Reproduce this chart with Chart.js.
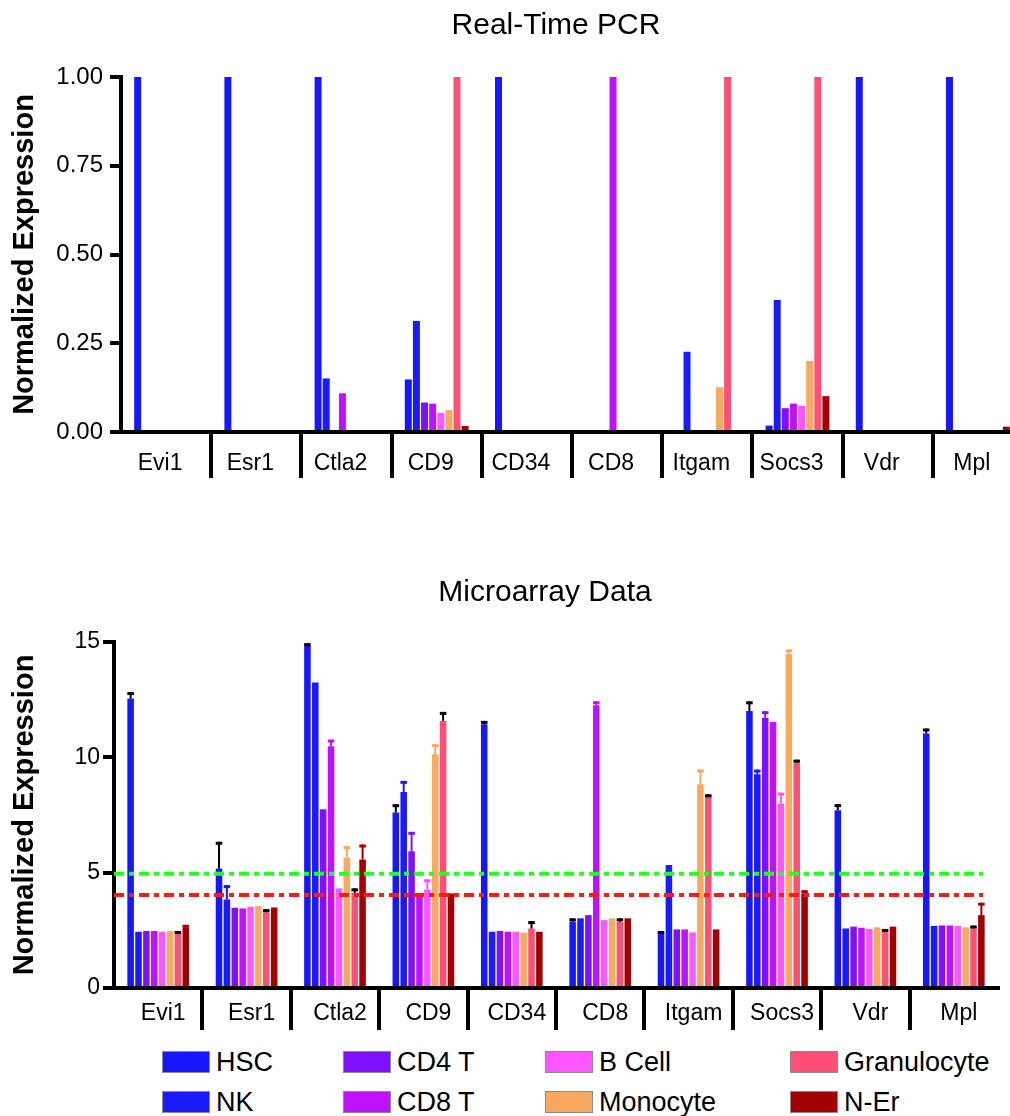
<!DOCTYPE html>
<html>
<head>
<meta charset="utf-8">
<script src="https://cdn.jsdelivr.net/npm/chart.js@4.4.1/dist/chart.umd.min.js"></script>
<style>
  html, body { margin: 0; padding: 0; background: #fff; overflow: hidden; }
  body { width: 1010px; height: 1116px; position: relative; font-family: 'Liberation Sans', Arial, sans-serif; }
  .title { position: absolute; width: 600px; text-align: center; font-size: 30px; line-height: 30px; color: #000; z-index: 2; }
  #topWrap { position: absolute; left: 0; top: 0; width: 1010px; height: 500px; overflow: hidden; }
  #pcrChart { position: absolute; left: 0; top: 0; }
  #arrayChart { position: absolute; left: 0; top: 600px; }
  #legend { position: absolute; left: 0; top: 1040px; width: 1010px; height: 76px; }
  .item { position: absolute; display: flex; align-items: center; height: 22px; font-size: 27px; color: #000; white-space: nowrap; }
  .swatch { width: 46px; height: 20px; border: 1px solid #8c8c8c; margin-right: 6px; }
</style>
</head>
<body>
<div class="title" style="left:256px; top:9px;">Real-Time PCR</div>
<div class="title" style="left:245px; top:576px;">Microarray Data</div>
<div id="topWrap"><canvas id="pcrChart" width="1023" height="500"></canvas></div>
<canvas id="arrayChart" width="1010" height="440"></canvas>
<div id="legend"></div>

<script>
const genes = ['Evi1', 'Esr1', 'Ctla2', 'CD9', 'CD34', 'CD8', 'Itgam', 'Socs3', 'Vdr', 'Mpl'];
const cellTypes = ['HSC', 'NK', 'CD4 T', 'CD8 T', 'B Cell', 'Monocyte', 'Granulocyte', 'N-Er'];
const cellColors = ['#1616ff', '#1a1aff', '#800fff', '#bf10ff', '#ff55ff', '#f9a95e', '#ff4f74', '#a30000'];
// error bars of these cell types are drawn in black, the rest in the bar colour
const blackErrors = ['HSC', 'Granulocyte'];

// Real-Time PCR, one value per gene
const pcrHSC  = [1, 1, 1, 0.148, 1, 0, 0, 0.018, 1, 1];
const pcrNK   = [0, 0, 0.151, 0.313, 0, 0, 0.226, 0.372, 0, 0];
const pcrCD4  = [0, 0, 0, 0.083, 0, 0, 0, 0.067, 0, 0];
const pcrCD8  = [0, 0, 0.109, 0.080, 0, 1, 0, 0.080, 0, 0];
const pcrB    = [0, 0, 0, 0.054, 0, 0, 0, 0.074, 0, 0];
const pcrMono = [0, 0, 0, 0.062, 0, 0, 0.126, 0.200, 0, 0];
const pcrGran = [0, 0, 0, 1, 0, 0, 1, 1, 0, 0];
const pcrNEr  = [0, 0, 0, 0.017, 0, 0, 0, 0.101, 0, 0.015];

// Microarray means
const arrHSC  = [12.55, 5.18, 14.86, 7.61, 11.43, 2.87, 2.37, 12.01, 7.71, 11.03];
const arrNK   = [2.44, 3.84, 13.24, 8.50, 2.44, 3.02, 5.33, 9.27, 2.58, 2.69];
const arrCD4  = [2.47, 3.48, 7.75, 5.93, 2.47, 3.16, 2.54, 11.72, 2.66, 2.71];
const arrCD8  = [2.47, 3.45, 10.48, 4.10, 2.44, 12.26, 2.54, 11.53, 2.61, 2.71];
const arrB    = [2.44, 3.52, 4.32, 4.27, 2.44, 2.94, 2.41, 8.00, 2.56, 2.69];
const arrMono = [2.47, 3.55, 5.66, 10.13, 2.40, 3.02, 8.83, 14.49, 2.63, 2.63];
const arrGran = [2.37, 3.28, 4.12, 11.58, 2.58, 2.87, 8.29, 9.77, 2.44, 2.58];
const arrNEr  = [2.62, 3.49, 5.57, 4.10, 2.44, 3.02, 2.54, 4.10, 2.66, 3.16];

// Microarray error (upper half only)
const errHSC  = [0.28, 1.16, 0.09, 0.36, 0.15, 0.15, 0.10, 0.42, 0.26, 0.22];
const errNK   = [0, 0.62, 0, 0.48, 0, 0, 0, 0.20, 0, 0];
const errCD4  = [0, 0, 0, 0.84, 0, 0, 0, 0.28, 0, 0];
const errCD8  = [0, 0, 0.29, 0, 0, 0.17, 0, 0, 0, 0];
const errB    = [0, 0, 0, 0.44, 0, 0, 0, 0.47, 0, 0];
const errMono = [0, 0, 0.49, 0.44, 0, 0, 0.64, 0.19, 0, 0];
const errGran = [0.10, 0.14, 0.20, 0.39, 0.32, 0.15, 0.11, 0.13, 0.12, 0.13];
const errNEr  = [0.12, 0, 0.65, 0, 0, 0, 0, 0.14, 0, 0.54];

// dashed reference lines on the microarray plot
const thresholdValues = [4.95, 4.03];
const thresholdColors = ['#22ff22', '#ff1a1a'];

const pcrSeries = [pcrHSC, pcrNK, pcrCD4, pcrCD8, pcrB, pcrMono, pcrGran, pcrNEr];
const arrSeries = [arrHSC, arrNK, arrCD4, arrCD8, arrB, arrMono, arrGran, arrNEr];
const errSeries = [errHSC, errNK, errCD4, errCD8, errB, errMono, errGran, errNEr];

Chart.defaults.font.family = "'Liberation Sans', Arial, sans-serif";
Chart.defaults.color = '#000';

const errorBars = {
  id: 'errorBars',
  afterDatasetsDraw(chart) {
    const ctx = chart.ctx;
    const y = chart.scales.y;
    chart.data.datasets.forEach((ds, d) => {
      if (!ds.errors) return;
      const meta = chart.getDatasetMeta(d);
      meta.data.forEach((bar, i) => {
        const e = ds.errors[i];
        if (!e) return;
        const base = y.getPixelForValue(ds.data[i]);
        const top = y.getPixelForValue(ds.data[i] + e);
        const half = bar.width / 2;
        ctx.save();
        ctx.strokeStyle = ds.errorColor;
        ctx.lineWidth = 2;
        ctx.beginPath();
        ctx.moveTo(bar.x, base);
        ctx.lineTo(bar.x, top);
        ctx.stroke();
        ctx.lineWidth = 3;
        ctx.beginPath();
        ctx.moveTo(bar.x - half, top + 1.5);
        ctx.lineTo(bar.x + half, top + 1.5);
        ctx.stroke();
        ctx.restore();
      });
    });
  }
};

const thresholds = {
  id: 'thresholds',
  afterDatasetsDraw(chart, args, opts) {
    if (!opts.values) return;
    const ctx = chart.ctx;
    const area = chart.chartArea;
    opts.values.forEach((v, i) => {
      const py = chart.scales.y.getPixelForValue(v);
      ctx.save();
      ctx.strokeStyle = opts.colors[i];
      ctx.lineWidth = 4;
      ctx.setLineDash([10, 5, 5, 5]);
      ctx.beginPath();
      ctx.moveTo(area.left, py);
      ctx.lineTo(area.right - 15, py);
      ctx.stroke();
      ctx.restore();
    });
  }
};

function makeDatasets(series, errors, catPct, barPct) {
  return cellTypes.map((name, i) => ({
    label: name,
    data: series[i],
    backgroundColor: cellColors[i],
    borderWidth: 0,
    categoryPercentage: catPct,
    barPercentage: barPct,
    errors: errors ? errors[i] : null,
    errorColor: blackErrors.includes(name) ? '#000' : cellColors[i]
  }));
}

function sepColor(c) {
  return c.index > 0 ? '#000' : 'rgba(0,0,0,0)';
}

function makeOptions(cfg) {
  return {
    responsive: false,
    animation: false,
    devicePixelRatio: 1,
    layout: { padding: { top: cfg.padTop, right: cfg.padRight, bottom: 0, left: 0 } },
    plugins: {
      legend: { display: false },
      tooltip: { enabled: false },
      thresholds: cfg.thresholds || {}
    },
    scales: {
      x: {
        grid: { offset: true, drawOnChartArea: false, tickLength: cfg.sepLength, lineWidth: 4, color: sepColor },
        border: { display: true, width: 4, color: '#000' },
        ticks: { font: { size: 23 }, padding: cfg.labelPad, labelOffset: cfg.labelOffset, maxRotation: 0, autoSkip: false },
        afterFit(scale) { scale.height = cfg.xHeight; }
      },
      y: {
        min: 0,
        max: cfg.max,
        grid: { drawOnChartArea: false, tickLength: 11, lineWidth: 4, color: '#000' },
        border: { display: true, width: 4, color: '#000' },
        ticks: { stepSize: cfg.step, font: { size: cfg.tickSize }, padding: cfg.tickPad, callback: cfg.fmt },
        title: { display: true, text: 'Normalized Expression', font: { size: 29, weight: 'bold' }, padding: { top: 8, bottom: 0 } },
        afterFit(scale) { scale.width = cfg.yWidth; }
      }
    }
  };
}

new Chart(document.getElementById('pcrChart'), {
  type: 'bar',
  data: { labels: genes, datasets: makeDatasets(pcrSeries, null, 0.72, 0.86) },
  options: makeOptions({
    padTop: 77, padRight: 0, xHeight: 68, yWidth: 121, max: 1, step: 0.25,
    tickSize: 24, tickPad: 7, sepLength: 46, labelPad: -28, labelOffset: -6,
    fmt: v => v.toFixed(2)
  })
});

new Chart(document.getElementById('arrayChart'), {
  type: 'bar',
  data: { labels: genes, datasets: makeDatasets(arrSeries, errSeries, 0.713, 0.83) },
  options: makeOptions({
    padTop: 42, padRight: 12, xHeight: 52, yWidth: 114, max: 15, step: 5,
    tickSize: 23, tickPad: 3, sepLength: 42, labelPad: -30, labelOffset: 5,
    fmt: v => String(v),
    thresholds: { values: thresholdValues, colors: thresholdColors }
  }),
  plugins: [errorBars, thresholds]
});

// legend laid out in columns of two, like the original figure
const legendCols = [162, 343, 545, 790];
const legend = document.getElementById('legend');
cellTypes.forEach((name, i) => {
  const item = document.createElement('div');
  item.className = 'item';
  item.style.left = legendCols[Math.floor(i / 2)] + 'px';
  item.style.top = (11 + (i % 2) * 40) + 'px';
  const sw = document.createElement('div');
  sw.className = 'swatch';
  sw.style.background = cellColors[i];
  const txt = document.createElement('span');
  txt.textContent = name;
  item.appendChild(sw);
  item.appendChild(txt);
  legend.appendChild(item);
});
</script>
</body>
</html>
